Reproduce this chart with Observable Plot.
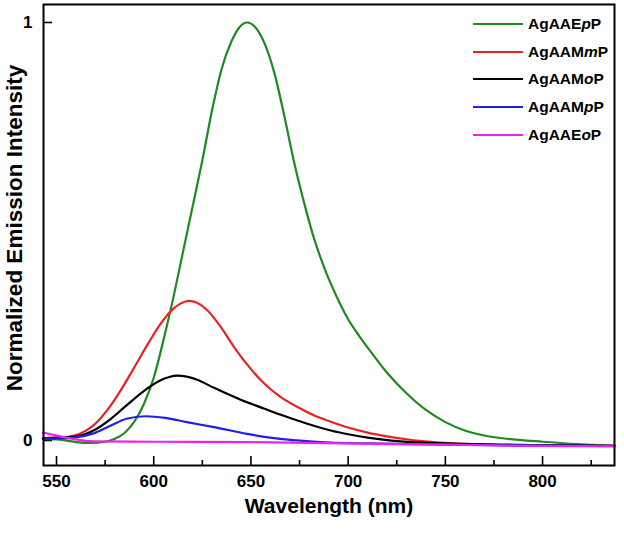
<!DOCTYPE html>
<html>
<head>
<meta charset="utf-8">
<script src="https://cdn.jsdelivr.net/npm/d3@7"></script>
<script src="https://cdn.jsdelivr.net/npm/@observablehq/plot@0.6"></script>
<style>
  html, body { margin: 0; padding: 0; background: #fff; }
  #wrap { position: relative; width: 624px; height: 533px; font-family: "Liberation Sans", Arial, sans-serif; }
  #legend { position: absolute; left: 473px; top: 10px; font-weight: bold; font-size: 15.5px; color: #000; }
  #legend .row { display: flex; align-items: center; height: 27.8px; }
  #legend .sw { width: 50px; height: 0; border-top: 2.5px solid; margin-right: 5px; }
</style>
</head>
<body>
<div id="wrap"><div id="legend"></div></div>
<script>
// ---- Data ----
const seriesNames = ["AgAAEpP", "AgAAMmP", "AgAAMoP", "AgAAMpP", "AgAAEoP"];
const seriesColors = ["#1f8a1f", "#e82222", "#000000", "#1e1ee8", "#ee22ee"];
// legend label parts: [prefix, italic, suffix]
const legendParts = [["AgAAE", "p", "P"], ["AgAAM", "m", "P"], ["AgAAM", "o", "P"], ["AgAAM", "p", "P"], ["AgAAE", "o", "P"]];

const wlEpP  = [543, 552, 560, 568, 575, 580, 585, 590, 595, 600, 605, 610, 615, 620, 625, 630, 635, 640, 644, 648, 652, 657, 662, 667, 672, 677, 682, 688, 694, 700, 706, 712, 720, 730, 740, 750, 760, 770, 782, 800, 820, 837];
const valEpP = [0.004, 0.002, -0.004, -0.006, -0.003, 0.004, 0.018, 0.045, 0.088, 0.15, 0.24, 0.34, 0.45, 0.56, 0.67, 0.79, 0.89, 0.955, 0.988, 1.0, 0.99, 0.95, 0.88, 0.78, 0.67, 0.575, 0.49, 0.41, 0.345, 0.29, 0.248, 0.21, 0.162, 0.113, 0.073, 0.044, 0.024, 0.012, 0.004, -0.003, -0.009, -0.013];

const wlMmP  = [543, 552, 556, 562, 569, 576, 583, 590, 597, 603.5, 610, 614, 618, 622, 627, 634, 641, 648, 656, 665, 674, 682, 691, 700, 710, 720, 730, 747, 770, 800, 837];
const valMmP = [0.006, 0.008, 0.009, 0.016, 0.036, 0.072, 0.12, 0.175, 0.231, 0.279, 0.315, 0.328, 0.334, 0.33, 0.314, 0.275, 0.226, 0.182, 0.14, 0.105, 0.08, 0.061, 0.045, 0.031, 0.019, 0.01, 0.003, -0.005, -0.01, -0.012, -0.013];

const wlMoP  = [543, 552, 560.6, 569, 578, 586, 596.6, 603, 608, 612, 617, 622, 631, 645, 657, 665, 679, 691, 700, 710, 727, 750, 800, 837];
const valMoP = [0.005, 0.007, 0.01, 0.024, 0.052, 0.084, 0.124, 0.143, 0.152, 0.155, 0.153, 0.146, 0.126, 0.097, 0.076, 0.062, 0.04, 0.024, 0.015, 0.007, -0.002, -0.007, -0.011, -0.013];

const wlMpP  = [543, 552, 560.6, 569, 578, 586, 596, 606, 617, 631, 648, 665, 680, 691, 710, 750, 800, 837];
const valMpP = [0.005, 0.005, 0.008, 0.017, 0.036, 0.052, 0.058, 0.054, 0.044, 0.032, 0.016, 0.004, -0.002, -0.005, -0.007, -0.01, -0.012, -0.013];

const wlEoP  = [543, 550, 556, 562, 570, 600, 650, 700, 750, 800, 837];
const valEoP = [0.019, 0.012, 0.006, 0.001, -0.002, -0.003, -0.004, -0.007, -0.01, -0.013, -0.014];

const xMajorTicks = [550, 600, 650, 700, 750, 800];
const xMinorTicks = [575, 625, 675, 725, 775, 825];
const yTicks = [0, 1];
const xLabel = "Wavelength (nm)";
const yLabel = "Normalized Emission Intensity";

// ---- Build table ----
const wls = [wlEpP, wlMmP, wlMoP, wlMpP, wlEoP];
const vals = [valEpP, valMmP, valMoP, valMpP, valEoP];
const rows = [];
seriesNames.forEach((name, i) => {
  wls[i].forEach((w, j) => rows.push({series: name, wl: w, v: vals[i][j]}));
});

const W = 624, H = 533;
const mL = 43, mR = 10, mT = 4, mB = 68;
const frameW = W - mL - mR, frameH = H - mT - mB;
const font = "'Liberation Sans', Arial, sans-serif";

const plot = Plot.plot({
  width: W, height: H,
  marginLeft: mL, marginRight: mR, marginTop: mT, marginBottom: mB,
  style: {fontFamily: font, fontWeight: "bold", background: "#fff", color: "#000"},
  x: {domain: [543.3, 837], axis: null},
  y: {domain: [-0.0598, 1.043], axis: null},
  color: {domain: seriesNames, range: seriesColors},
  marks: [
    Plot.axisX(xMajorTicks, {tickSize: 0, tickPadding: 9, fontSize: 17, fontWeight: "bold", label: null, tickFormat: d => String(d)}),
    Plot.axisY(yTicks, {tickSize: 0, tickPadding: 11, fontSize: 17, fontWeight: "bold", label: null, tickFormat: d => String(d)}),
    Plot.tickX(xMajorTicks, {x: d => d, insetTop: frameH - 9, stroke: "#000", strokeWidth: 1.6}),
    Plot.tickX(xMinorTicks, {x: d => d, insetTop: frameH - 5, stroke: "#000", strokeWidth: 1.6}),
    Plot.tickY(yTicks, {y: d => d, insetRight: frameW - 9, stroke: "#000", strokeWidth: 1.6}),
    Plot.line(rows, {x: "wl", y: "v", z: "series", stroke: "series", strokeWidth: 2.2, curve: "monotone-x"}),
    Plot.frame({stroke: "#000", strokeWidth: 2}),
    Plot.text([xLabel], {frameAnchor: "bottom", dy: 47, fontSize: 21, fontWeight: "bold", fill: "#000"}),
    Plot.text([yLabel], {frameAnchor: "left", textAnchor: "middle", dx: -29, dy: -7, rotate: -90, fontSize: 22.5, fontWeight: "bold", fill: "#000"})
  ]
});

const wrap = document.getElementById("wrap");
wrap.insertBefore(plot, wrap.firstChild);

const legend = document.getElementById("legend");
seriesNames.forEach((name, i) => {
  const row = document.createElement("div");
  row.className = "row";
  const sw = document.createElement("span");
  sw.className = "sw";
  sw.style.borderTopColor = seriesColors[i];
  row.appendChild(sw);
  const label = document.createElement("span");
  const [a, b, c] = legendParts[i];
  label.appendChild(document.createTextNode(a));
  const it = document.createElement("i");
  it.textContent = b;
  label.appendChild(it);
  label.appendChild(document.createTextNode(c));
  row.appendChild(label);
  legend.appendChild(row);
});
</script>
</body>
</html>
